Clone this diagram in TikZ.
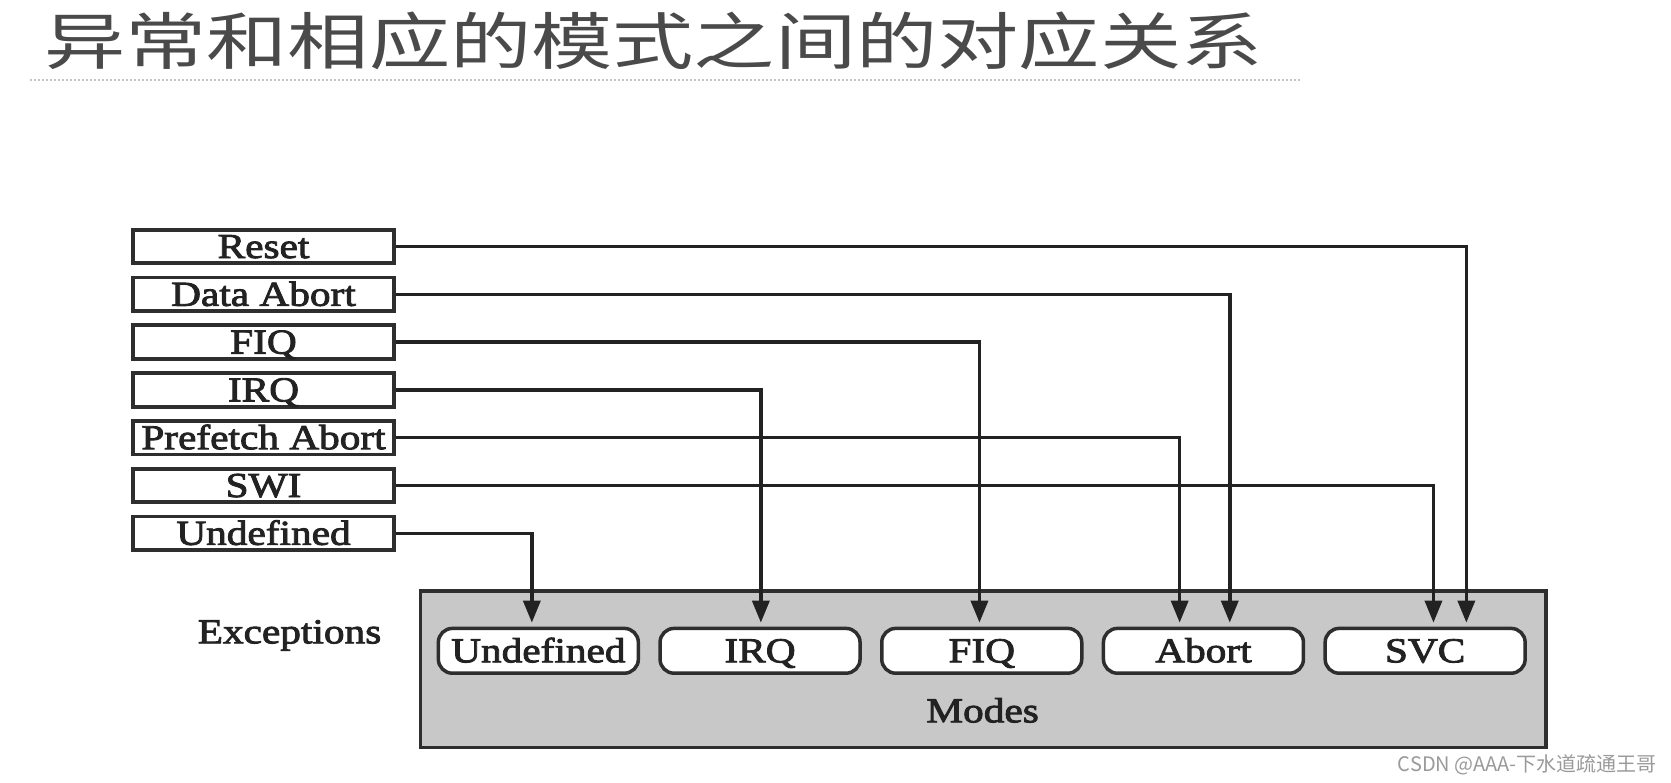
\documentclass[tikz,border=0pt]{standalone}
\usepackage{fontspec}
\usetikzlibrary{arrows.meta}
\newfontfamily\figfont{Liberation Serif}[FakeStretch=1.18,FakeBold=2.5]
\newfontfamily\titlefont{Noto Sans CJK SC}[FakeStretch=1.31]
\newfontfamily\markfont{Noto Sans CJK SC}
\definecolor{ink}{HTML}{222222}
\definecolor{boxline}{HTML}{2E2E2E}
\definecolor{panel}{HTML}{C8C8C8}
\definecolor{titlegray}{HTML}{4A4A4A}
\definecolor{dotgray}{HTML}{C4C4C4}
\definecolor{markgray}{HTML}{9A9A9A}
\begin{document}
\begin{tikzpicture}[x=1pt,y=-1pt,
  figtext/.style={font=\figfont\fontsize{35}{40}\selectfont, text=ink},
  excbox/.style={figtext, draw=boxline, line width=3.8pt, fill=white,
    minimum width=261.5pt, minimum height=33.5pt, inner sep=0pt,
    text height=23pt, text depth=0pt},
  modebox/.style={figtext, draw=boxline, line width=3.5pt, fill=white,
    rounded corners=14pt, minimum width=200pt, minimum height=44.8pt,
    inner sep=0pt, text height=23pt, text depth=0pt},
  conn/.style={draw=ink, line width=3.5pt, -{Triangle[length=22pt,width=17pt]}},
]
\useasboundingbox (0,0) rectangle (1671,782);
\fill[white] (0,0) rectangle (1671,782);

% title
\node[anchor=base west, inner sep=0pt, text=titlegray,
  font=\titlefont\fontsize{62}{70}\selectfont] (title) at (44,64.5)
  {异常和相应的模式之间的对应关系};
\draw[dotgray, line width=1.5pt, dash pattern=on 1.5pt off 2.5pt] (30,80) -- (1302,80);

% modes panel
\node[draw=boxline, fill=panel, line width=3.5pt, inner sep=0pt,
  minimum width=1125.5pt, minimum height=156.5pt] (panelbox) at (983,669.3) {};
\node[figtext, anchor=base, inner sep=0pt] (modeslabel) at (982.6,722.3) {Modes};
\node[figtext, anchor=base, inner sep=0pt] (exclabel) at (289.5,643.3) {Exceptions};

% mode boxes
\node[modebox] (mUnd)   at (538.35,650.8) {Undefined};
\node[modebox] (mIRQ)   at (760.05,650.8) {IRQ};
\node[modebox] (mFIQ)   at (981.75,650.8) {FIQ};
\node[modebox] (mAbort) at (1203.45,650.8) {Abort};
\node[modebox] (mSVC)   at (1425.15,650.8) {SVC};

% exception boxes
\node[excbox] (eReset) at (263.5,246.5) {Reset};
\node[excbox] (eData)  at (263.5,294.3) {Data Abort};
\node[excbox] (eFIQ)   at (263.5,342.1) {FIQ};
\node[excbox] (eIRQ)   at (263.5,389.9) {IRQ};
\node[excbox] (ePref)  at (263.5,437.7) {Prefetch Abort};
\node[excbox] (eSWI)   at (263.5,485.5) {SWI};
\node[excbox] (eUnd)   at (263.5,533.3) {Undefined};

% connectors
\draw[conn] (eReset.east) -| ([xshift=41.2pt,yshift=4pt]mSVC.north);
\draw[conn] (eData.east)  -| ([xshift=26.3pt,yshift=4pt]mAbort.north);
\draw[conn] (eFIQ.east)   -| ([xshift=-2.3pt,yshift=4pt]mFIQ.north);
\draw[conn] (eIRQ.east)   -| ([xshift=0.8pt,yshift=4pt]mIRQ.north);
\draw[conn] (ePref.east)  -| ([xshift=-23.8pt,yshift=4pt]mAbort.north);
\draw[conn] (eSWI.east)   -| ([xshift=8.3pt,yshift=4pt]mSVC.north);
\draw[conn] (eUnd.east)   -| ([xshift=-6.5pt,yshift=4pt]mUnd.north);

% watermark
\node[anchor=base east, inner sep=0pt, text=markgray,
  font=\markfont\fontsize{20}{24}\selectfont] (mark) at (1657,771)
  {CSDN @AAA-下水道疏通王哥};
\end{tikzpicture}
\end{document}
